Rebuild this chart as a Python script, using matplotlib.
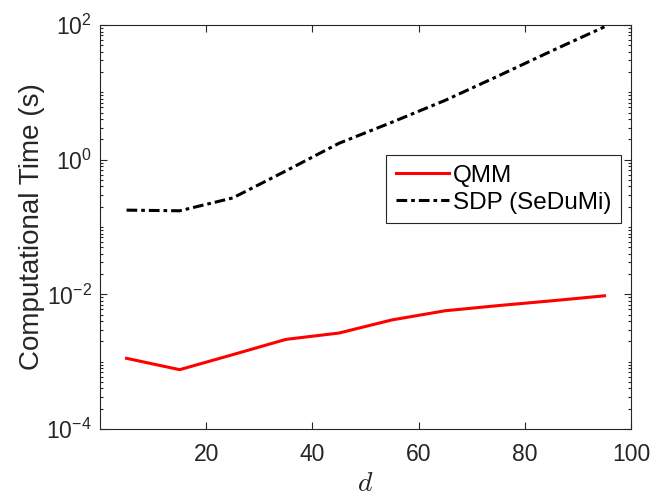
"""Computational time of QMM vs SDP (SeDuMi) against the dimension d."""
import matplotlib
matplotlib.use('Agg')
import matplotlib.pyplot as plt
from matplotlib.ticker import FixedLocator, NullFormatter, LogFormatterMathtext

plt.rcParams['font.family'] = ['Liberation Sans', 'DejaVu Sans']
plt.rcParams['mathtext.fontset'] = 'custom'
plt.rcParams['mathtext.rm'] = 'Liberation Sans'
plt.rcParams['mathtext.it'] = 'Liberation Sans:italic'

# dimension
d = [5, 15, 25, 35, 45, 55, 65, 75, 85, 95]
# run times in seconds
t_qmm = [1.12e-3, 7.6e-4, 1.27e-3, 2.14e-3, 2.66e-3, 4.17e-3, 5.7e-3, 6.8e-3, 8.0e-3, 9.5e-3]
t_sdp = [0.178, 0.174, 0.27, 0.68, 1.75, 3.6, 7.6, 17.5, 41.0, 94.0]

xticks = [20, 40, 60, 80, 100]
yticks = [1e-4, 1e-2, 1e0, 1e2]

AX_COLOR = '#262626'


def main():
    fig = plt.figure(figsize=(6.51, 4.98), dpi=100)
    ax = fig.add_axes([0.1536, 0.1386, 0.8157, 0.8112])

    ax.plot(d, t_qmm, color='#ff0000', lw=2.2, label='QMM')
    ax.plot(d, t_sdp, color='black', lw=2.2, dashes=(3.5, 1.3, 1.2, 1.3),
            label='SDP (SeDuMi)')

    ax.set_yscale('log')
    ax.set_xlim(0, 100)
    ax.set_ylim(1e-4, 1e2)
    ax.set_xticks(xticks)
    ax.yaxis.set_major_locator(FixedLocator(yticks))
    minors = [m * 10.0 ** k for k in range(-4, 2) for m in range(1, 10)
              if not (m == 1 and k % 2 == 0)]
    ax.yaxis.set_minor_locator(FixedLocator(minors))
    ax.yaxis.set_minor_formatter(NullFormatter())
    ax.yaxis.set_major_formatter(LogFormatterMathtext())

    for s in ax.spines.values():
        s.set_color(AX_COLOR)
        s.set_linewidth(0.8)
    ax.tick_params(which='both', direction='in', top=True, right=True,
                   colors=AX_COLOR, labelsize=16.5, width=0.8)
    ax.tick_params(which='major', length=5, pad=10)
    ax.tick_params(which='minor', length=2.5)
    ax.tick_params(axis='y', which='major', pad=6)

    ax.set_ylabel('Computational Time (s)', fontsize=20, color=AX_COLOR, labelpad=1)
    ax.set_xlabel('$d$', fontsize=20, color=AX_COLOR, labelpad=4,
                  math_fontfamily='cm')

    leg = ax.legend(loc='upper right', bbox_to_anchor=(0.981, 0.678),
                    borderaxespad=0, fancybox=False, fontsize=17.5,
                    handlelength=2.2, handletextpad=0.15, borderpad=0.4,
                    labelspacing=0.2, framealpha=1)
    leg.get_frame().set_edgecolor(AX_COLOR)
    leg.get_frame().set_linewidth(0.8)

    fig.savefig('out.png', dpi=100)


if __name__ == '__main__':
    main()
